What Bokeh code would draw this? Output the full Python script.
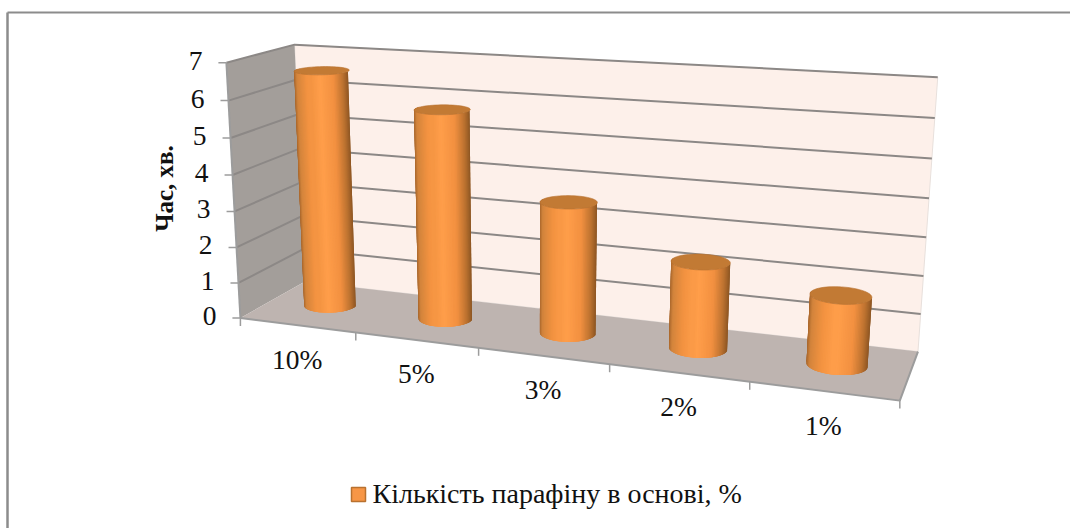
import numpy as np
from bokeh.plotting import figure
from bokeh.models import Range1d
from bokeh.core.properties import value
from bokeh.embed import file_html
from bokeh.resources import INLINE

categories = ["10%", "5%", "3%", "2%", "1%"]
values = [6.6, 5.75, 3.55, 2.3, 1.8]
y_ticks = [0, 1, 2, 3, 4, 5, 6, 7]
y_title = "Час, хв."
legend_label = "Кількість  парафіну в основі, %"

W, H = 1070, 528
SERIF = value("Liberation Serif")

# camera of the 3D box: (category position, depth, value) -> page pixels
calib = [((0, 0, 0), (242, 316)), ((5, 0, 0), (899, 402)), ((0, 1, 0), (302, 283)),
         ((5, 1, 0), (918, 349)), ((0, 0, 7), (224, 62)), ((0, 1, 7), (296, 44)),
         ((5, 1, 7), (937, 77))]
A, b = [], []
for (u, v, w), (x, y) in calib:
    A.append([u, v, w, 1, 0, 0, 0, 0, -x*u, -x*v, -x*w]); b.append(x)
    A.append([0, 0, 0, 0, u, v, w, 1, -y*u, -y*v, -y*w]); b.append(y)
m = np.linalg.lstsq(np.array(A, float), np.array(b, float), rcond=None)[0]
P = np.append(m, 1.0).reshape(3, 4)

def proj(u, v, w):
    q = P @ np.array([u, v, w, 1.0])
    return float(q[0]/q[2]), float(q[1]/q[2])

def poly(pts):
    xy = [proj(*q) for q in pts]
    return [a for a, _ in xy], [c for _, c in xy]

p = figure(width=W, height=H, x_range=Range1d(0, W), y_range=Range1d(H, 0),
           output_backend="svg", toolbar_location=None, min_border=0,
           outline_line_color=None, background_fill_color="white")
p.axis.visible = False
p.grid.visible = False

# chart frame (top and left only)
p.line([7, W], [12, 12], line_color="#8c8c8c", line_width=2)
p.line([7, 7], [12, H], line_color="#8c8c8c", line_width=2.5)

U, Z = len(categories), max(y_ticks)
# walls and floor
x, y = poly([(0, 1, 0), (U, 1, 0), (U, 1, Z), (0, 1, Z)])
p.patch(x, y, fill_color="#FDF0EA", line_color="#E8E0DC", line_width=1)
x, y = poly([(0, 0, 0), (0, 1, 0), (0, 1, Z), (0, 0, Z)])
p.patch(x, y, fill_color="#A39E9A", line_color=None)
x, y = poly([(0, 0, 0), (U, 0, 0), (U, 1, 0), (0, 1, 0)])
p.patch(x, y, fill_color="#BEB4B0", line_color=None)

GRID = "#8C8886"
for t in y_ticks[1:]:
    x, y = poly([(0, 0, t), (0, 1, t), (U, 1, t)])
    p.line(x, y, line_color=GRID, line_width=2)
# axis edges
for pts in ([(0, 0, 0), (0, 0, Z)], [(0, 0, 0), (U, 0, 0), (U, 1, 0)]):
    x, y = poly(pts)
    p.line(x, y, line_color="#9C9C9C", line_width=2)

# ticks and labels
for t in y_ticks:
    a, c = proj(0, 0, t)
    p.line([a-8, a], [c, c], line_color="#9C9C9C", line_width=1.5)
    p.text([a-24], [c-2], text=[str(t)], text_font=SERIF, text_font_size="27.5px",
           text_color="#111111", text_align="right", text_baseline="middle")
for i in range(U+1):
    a, c = proj(i, 0, 0)
    p.line([a, a], [c, c+8], line_color="#9C9C9C", line_width=1.5)
for i, name in enumerate(categories):
    a, c = proj(i+.5, 0, 0)
    p.text([a], [c+34], text=[name], text_font=SERIF, text_font_size="27.5px",
           text_color="#111111", text_align="center", text_baseline="middle")

# cylinders
stops_t = [0, .06, .25, .45, .7, .88, 1]
stops = np.array([[0xA8, 0x66, 0x2C], [0xD2, 0x84, 0x3C], [0xF2, 0x92, 0x40], [0xFF, 0x9E, 0x4A],
                  [0xF2, 0x90, 0x40], [0xBC, 0x72, 0x30], [0x8A, 0x54, 0x22]], float)
def shade(t):
    c = [np.interp(t, stops_t, stops[:, k]) for k in range(3)]
    return "#%02x%02x%02x" % tuple(int(round(q)) for q in c)

RU, RV = 0.21, 0.2
for i, val in enumerate(values):
    uc, vc = i+.5, .53
    th = np.linspace(np.pi-.15, 2*np.pi+.15, 61)
    rim = [(uc+RU*np.cos(q), vc+RV*np.sin(q)) for q in th]
    xs_b = [proj(a, c, 0)[0] for a, c in rim]
    lo, hi = min(xs_b), max(xs_b)
    quads = []
    for j in range(len(rim)-1):
        j0, j1 = max(j-1, 0), min(j+2, len(rim)-1)
        (a0, c0), (a1, c1) = rim[j0], rim[j1]
        x, y = poly([(a0, c0, 0), (a1, c1, 0), (a1, c1, val), (a0, c0, val)])
        tm = (.5*(xs_b[j]+xs_b[j+1])-lo)/(hi-lo)
        quads.append((abs(j+.5-(len(rim)-1)/2), x, y, shade(tm)))
    quads.sort(key=lambda q: -q[0])
    p.patches([q[1] for q in quads], [q[2] for q in quads], fill_color=[q[3] for q in quads],
              line_color=None)
    th2 = np.linspace(0, 2*np.pi, 60)
    x, y = poly([(uc+RU*np.cos(q), vc+RV*np.sin(q), val) for q in th2])
    p.patch(x, y, fill_color="#C27A34", line_color="#B87230", line_width=.6)

# axis title
p.text([164], [188], text=[y_title], angle=[np.pi/2], text_font=SERIF, text_font_style="bold",
       text_font_size="25px", text_color="#111111", text_align="center", text_baseline="middle")
# legend
p.quad(left=[351], right=[365], top=[487], bottom=[501], fill_color="#F79646",
       line_color="#B9712F", line_width=1.5)
p.text([372], [493], text=[legend_label], text_font=SERIF, text_font_size="28px",
       text_color="#111111", text_align="left", text_baseline="middle")

open("out.html", "w").write(file_html(p, INLINE))
